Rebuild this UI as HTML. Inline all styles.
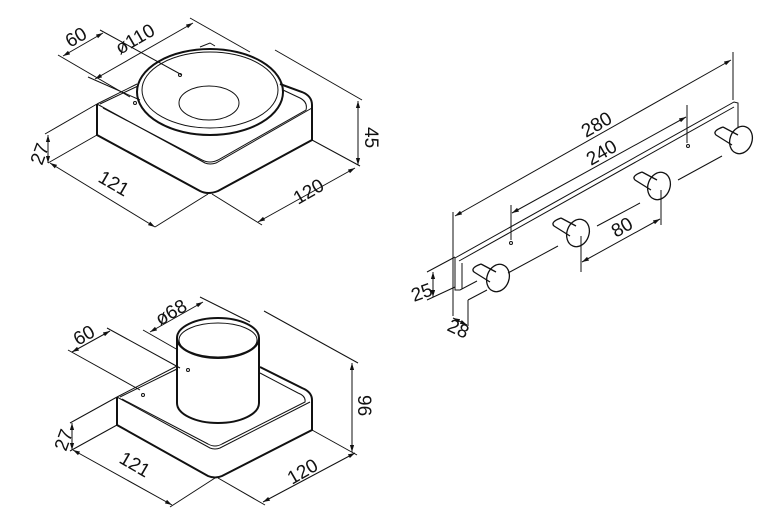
<!DOCTYPE html>
<html><head><style>html,body{margin:0;padding:0;background:#fff}svg{display:block}text{font-family:"Liberation Sans",sans-serif;font-size:19px;fill:#111}</style></head>
<body>
<svg width="777" height="528" viewBox="0 0 777 528" xmlns="http://www.w3.org/2000/svg">
<defs><marker id="a" viewBox="0 0 10 10" refX="10" refY="5" markerWidth="7" markerHeight="7" orient="auto-start-reverse"><path d="M0,2L10,5L0,8z" fill="#111"/></marker></defs>
<g fill="none" stroke="#111" stroke-width="1">
<!-- TOP PIECE -->
<path d="M97,104 L97,135 L200,191 Q208,195 218,191 L312,140 L312,105 Q312,96 302,92 L280,84" stroke-width="2"/>
<path d="M97,104 L205,163 Q210,165 216,163 L312,108"/>
<path d="M103,108 L202,160 Q210,164 218,160 L306,110 Q308,102 300,98 L283,90"/>
<path d="M97,104 L137,84" />
<path d="M100,104 L138,86"/>
<ellipse cx="210" cy="92" rx="73" ry="43" stroke-width="2"/>
<ellipse cx="210" cy="90" rx="68" ry="38"/>
<ellipse cx="209" cy="103" rx="30" ry="17"/>
<path d="M200,47 L210,43 L215,46"/>
<circle cx="180" cy="75" r="1.5"/><circle cx="135" cy="103" r="1.5"/>
<line x1="50" y1="163" x2="155" y2="227" marker-start="url(#a)" marker-end="url(#a)"/>
<line x1="97" y1="135" x2="48" y2="163"/><line x1="208" y1="194" x2="155" y2="227"/>
<line x1="258" y1="222" x2="355" y2="168" marker-start="url(#a)" marker-end="url(#a)"/>
<line x1="212" y1="194" x2="262" y2="225"/><line x1="312" y1="140" x2="360" y2="166"/>
<line x1="358" y1="101" x2="358" y2="165" marker-start="url(#a)" marker-end="url(#a)"/>
<line x1="275" y1="50" x2="362" y2="100"/>
<line x1="48" y1="135" x2="48" y2="163" marker-start="url(#a)" marker-end="url(#a)"/>
<line x1="97" y1="104" x2="45" y2="134"/>
<line x1="63" y1="56" x2="103" y2="33" marker-start="url(#a)" marker-end="url(#a)"/>
<line x1="58" y1="55" x2="130" y2="97"/><line x1="100" y1="30" x2="182" y2="75"/>
<line x1="95" y1="79" x2="193" y2="23" marker-start="url(#a)" marker-end="url(#a)"/>
<line x1="88" y1="77" x2="140" y2="100"/><line x1="190" y1="18" x2="250" y2="52"/>
<!-- BOTTOM PIECE -->
<path d="M117,397 L117,425 L208,476 Q215,479 222,476 L312,430 L312,400 Q312,392 302,388 L260,367" stroke-width="2"/>
<path d="M117,397 L210,448 Q215,450 220,448 L310,402"/>
<path d="M122,399 L208,444 Q215,448 222,444 L305,402 Q306,396 298,393 L260,373"/>
<path d="M117,397 L177,366"/><path d="M120,397 L177,369"/>
<path d="M177,338 L177,403 A41,20 0 0 0 259,403 L259,338" stroke-width="2"/>
<ellipse cx="218" cy="338" rx="41" ry="20" stroke-width="2"/>
<ellipse cx="218" cy="340" rx="39" ry="17"/>
<circle cx="188" cy="370" r="1.5"/><circle cx="143" cy="395" r="1.5"/>
<line x1="73" y1="450" x2="172" y2="505" marker-start="url(#a)" marker-end="url(#a)"/>
<line x1="117" y1="425" x2="70" y2="451"/><line x1="215" y1="478" x2="170" y2="507"/>
<line x1="263" y1="502" x2="355" y2="453" marker-start="url(#a)" marker-end="url(#a)"/>
<line x1="218" y1="478" x2="265" y2="505"/><line x1="312" y1="430" x2="357" y2="455"/>
<line x1="352" y1="363" x2="352" y2="452" marker-start="url(#a)" marker-end="url(#a)"/>
<line x1="264" y1="311" x2="358" y2="363"/>
<line x1="72" y1="423" x2="72" y2="450" marker-start="url(#a)" marker-end="url(#a)"/>
<line x1="117" y1="397" x2="70" y2="423"/>
<line x1="72" y1="352" x2="110" y2="331" marker-start="url(#a)" marker-end="url(#a)"/>
<line x1="68" y1="350" x2="140" y2="390"/><line x1="107" y1="328" x2="180" y2="368"/>
<line x1="150" y1="332" x2="203" y2="302" marker-start="url(#a)" marker-end="url(#a)"/>
<line x1="143" y1="330" x2="178" y2="350"/><line x1="200" y1="297" x2="250" y2="322"/>
<!-- HOOK RACK -->
<path d="M455,258 L455,290 L460,290 L477,281"/>
<path d="M455,258 L734,102 L738,103 L738,128"/>
<path d="M459,261 L734,107"/>
<path d="M462,263 L462,289"/>
<path d="M508,273 L558,246 M597,226 L640,203 M678,180 L722,156"/>
<g stroke-width="1.3">
<path d="M481,264 L496,272 M474,272 L490,282 M481,264 Q470,268 474,272"/>
<ellipse cx="498" cy="278" rx="11" ry="14" transform="rotate(20 498 278)"/>
<path d="M561,218 L576,226 M554,226 L570,236 M561,218 Q550,222 554,226"/>
<ellipse cx="578" cy="233" rx="11" ry="14" transform="rotate(20 578 233)"/>
<path d="M642,172 L657,180 M635,180 L651,190 M642,172 Q631,176 635,180"/>
<ellipse cx="659" cy="186" rx="11" ry="14" transform="rotate(20 659 186)"/>
<path d="M723,127 L738,135 M716,135 L732,145 M723,127 Q712,131 716,135"/>
<ellipse cx="741" cy="140" rx="11" ry="14" transform="rotate(20 741 140)"/>
</g>
<circle cx="511" cy="243" r="1.5"/><circle cx="688" cy="146" r="1.5"/>
<line x1="453" y1="212" x2="453" y2="316"/>
<line x1="733" y1="52" x2="733" y2="100"/>
<line x1="455" y1="216" x2="731" y2="60" marker-start="url(#a)" marker-end="url(#a)"/>
<line x1="511" y1="205" x2="511" y2="240"/><line x1="687" y1="105" x2="687" y2="143"/>
<line x1="512" y1="213" x2="686" y2="117" marker-start="url(#a)" marker-end="url(#a)"/>
<line x1="581" y1="236" x2="581" y2="272"/><line x1="661" y1="190" x2="661" y2="225"/>
<line x1="582" y1="262" x2="660" y2="219" marker-start="url(#a)" marker-end="url(#a)"/>
<line x1="433" y1="272" x2="433" y2="297" marker-start="url(#a)" marker-end="url(#a)"/>
<line x1="427" y1="272" x2="455" y2="257"/><line x1="427" y1="300" x2="455" y2="287"/>
<line x1="468" y1="300" x2="468" y2="326"/><line x1="468" y1="300" x2="487" y2="290"/>
<line x1="453" y1="318" x2="467" y2="325" marker-start="url(#a)" marker-end="url(#a)"/>
</g>
<text transform="translate(70,48) rotate(-30)">60</text>
<text transform="translate(120,55) rotate(-30)">ø110</text>
<text transform="translate(97,181) rotate(30)">121</text>
<text transform="translate(298,205) rotate(-30)">120</text>
<text transform="translate(365,127) rotate(90)">45</text>
<text transform="translate(42,166) rotate(-70)">27</text>
<text transform="translate(78,346) rotate(-30)">60</text>
<text transform="translate(160,326) rotate(-30)">ø68</text>
<text transform="translate(118,462) rotate(30)">121</text>
<text transform="translate(292,485) rotate(-30)">120</text>
<text transform="translate(358,395) rotate(90)">96</text>
<text transform="translate(66,452) rotate(-70)">27</text>
<text transform="translate(586,138) rotate(-30)">280</text>
<text transform="translate(591,166) rotate(-30)">240</text>
<text transform="translate(616,238) rotate(-30)">80</text>
<text transform="translate(414,302) rotate(-20)">25</text>
<text transform="translate(446,330) rotate(25)">28</text>
</svg>
</body></html>
